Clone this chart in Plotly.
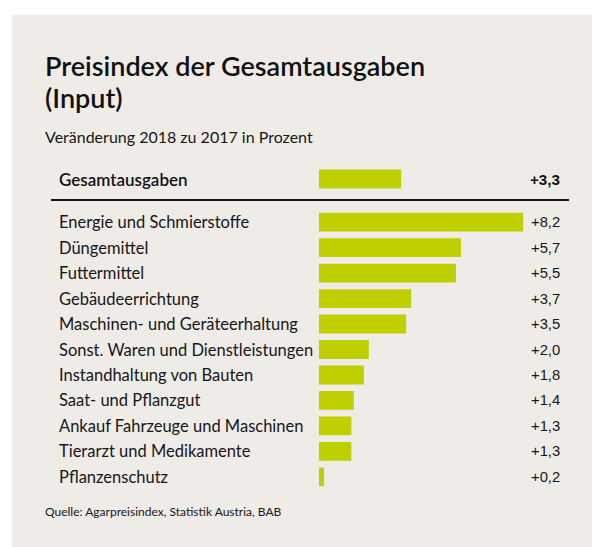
import plotly.graph_objects as go

# data
total_label = "Gesamtausgaben"
total_value = 3.3

categories = ["Energie und Schmierstoffe", "Düngemittel", "Futtermittel",
              "Gebäudeerrichtung", "Maschinen- und Geräteerhaltung",
              "Sonst. Waren und Dienstleistungen", "Instandhaltung von Bauten",
              "Saat- und Pflanzgut", "Ankauf Fahrzeuge und Maschinen",
              "Tierarzt und Medikamente", "Pflanzenschutz"]
values = [8.2, 5.7, 5.5, 3.7, 3.5, 2.0, 1.8, 1.4, 1.3, 1.3, 0.2]

W, H = 592, 547
BG = "#efece8"
BAR = "#bfcf00"
FONT = "Lato"
VFONT = "Liberation Sans"
INK = "#161616"


def fmt(v):
    """German style signed number, e.g. +8,2"""
    return ("+" if v >= 0 else "") + f"{v:.1f}".replace(".", ",")


def px(x):
    return x / W


def py(y):
    return 1 - y / H


fig = go.Figure()
fig.add_trace(go.Bar(x=values, y=categories, orientation="h",
                     marker=dict(color=BAR, line=dict(width=0)),
                     width=0.74, xaxis="x", yaxis="y", hoverinfo="skip"))
fig.add_trace(go.Bar(x=[total_value], y=[total_label], orientation="h",
                     marker=dict(color=BAR, line=dict(width=0)),
                     width=0.74, xaxis="x", yaxis="y2", hoverinfo="skip"))

annotations = []
for c, v in zip(categories, values):
    annotations.append(dict(x=px(57), y=c, xref="paper", yref="y", text=c,
                            xanchor="left", yanchor="middle", showarrow=False,
                            font=dict(family=FONT, size=16.5, color=INK)))
    annotations.append(dict(x=px(562), y=c, xref="paper", yref="y", text=fmt(v),
                            xanchor="right", yanchor="middle", showarrow=False,
                            font=dict(family=VFONT, size=14.8, color=INK)))
annotations.append(dict(x=px(57), y=total_label, xref="paper", yref="y2",
                        text=total_label, xanchor="left",
                        yanchor="middle", showarrow=False,
                        font=dict(family=FONT, size=17, weight=600, color="#111111")))
annotations.append(dict(x=px(562), y=total_label, xref="paper", yref="y2",
                        text="<b>" + fmt(total_value) + "</b>", xanchor="right",
                        yanchor="middle", showarrow=False,
                        font=dict(family=VFONT, size=15.2, color="#111111")))
# titles
annotations.append(dict(x=px(43), y=py(65), xref="paper", yref="paper",
                        text="Preisindex der Gesamtausgaben",
                        xanchor="left", yanchor="middle", showarrow=False,
                        font=dict(family=FONT, size=27, weight=600, color="#111111")))
annotations.append(dict(x=px(43), y=py(97), xref="paper", yref="paper",
                        text="(Input)",
                        xanchor="left", yanchor="middle", showarrow=False,
                        font=dict(family=FONT, size=27, weight=600, color="#111111")))
annotations.append(dict(x=px(43), y=py(136), xref="paper", yref="paper",
                        text="Veränderung 2018 zu 2017 in Prozent",
                        xanchor="left", yanchor="middle", showarrow=False,
                        font=dict(family=FONT, size=16, color=INK)))
annotations.append(dict(x=px(43), y=py(511), xref="paper", yref="paper",
                        text="Quelle: Agarpreisindex, Statistik Austria, BAB",
                        xanchor="left", yanchor="middle", showarrow=False,
                        font=dict(family=FONT, size=12, color=INK)))

shapes = [
    dict(type="rect", xref="paper", yref="paper", x0=px(12), x1=1.05, y0=-0.05, y1=py(15),
         fillcolor=BG, line=dict(width=0), layer="below"),
    dict(type="line", xref="paper", yref="paper", x0=px(51), x1=px(569),
         y0=py(200), y1=py(200), line=dict(color="#111111", width=2)),
]

fig.update_layout(
    width=W, height=H,
    margin=dict(l=0, r=0, t=0, b=0),
    paper_bgcolor="white", plot_bgcolor="rgba(0,0,0,0)",
    showlegend=False,
    xaxis=dict(domain=[px(319), 1], range=[0, (W - 319) / 24.9],
               visible=False, fixedrange=True),
    yaxis=dict(domain=[py(489.6), py(209.4)], range=[10.5, -0.5],
               visible=False, fixedrange=True),
    yaxis2=dict(domain=[py(191.75), py(166.25)], range=[0.5, -0.5],
                visible=False, fixedrange=True),
    annotations=annotations,
    shapes=shapes,
)

# drop the default page margin so the figure fills the window exactly
fig.write_html("out.html", config={"displayModeBar": False},
               post_script="document.body.style.margin='0';"
                           "document.body.style.overflow='hidden';"
                           "document.documentElement.style.background='" + BG + "';"
                           "document.body.style.background='" + BG + "';")
